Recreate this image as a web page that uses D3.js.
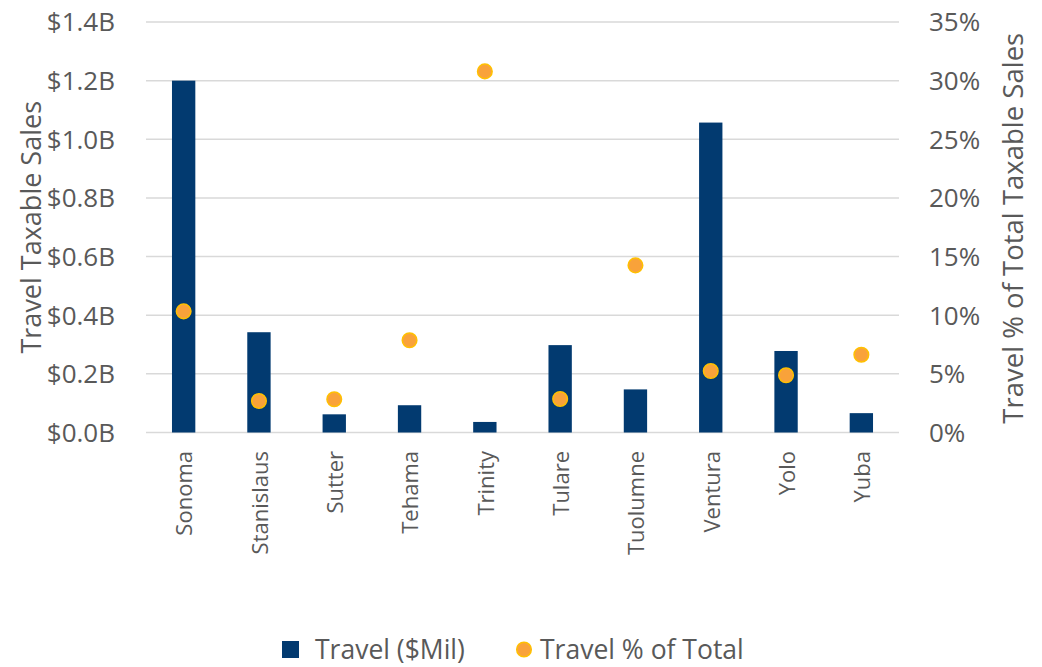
<!DOCTYPE html>
<html><head><meta charset="utf-8">
<script src="https://cdn.jsdelivr.net/npm/d3@7"></script>
<style>body{margin:0;background:#fff}svg{display:block}text{font-family:"Open Sans",sans-serif;fill:#595959}</style>
</head><body><svg id="c" width="1042" height="667"></svg>
<script>
const categories = ["Sonoma","Stanislaus","Sutter","Tehama","Trinity","Tulare","Tuolumne","Ventura","Yolo","Yuba"];
const travelB = [1.20,0.342,0.062,0.093,0.036,0.298,0.147,1.057,0.278,0.066];
const travelPct = [10.33,2.69,2.83,7.86,30.79,2.86,14.25,5.24,4.88,6.63];
const leftTicks = [0,0.2,0.4,0.6,0.8,1.0,1.2,1.4];
const rightTicks = [0,5,10,15,20,25,30,35];
const leftTitle = "Travel Taxable Sales";
const rightTitle = "Travel % of Total Taxable Sales";
const legendLabels = ["Travel ($Mil)","Travel % of Total"];

const svg = d3.select("#c");
const L=146,R=899,T=22,B=432.5;
const x = d3.scaleBand().domain(categories).range([L,R]).paddingInner(0.69).paddingOuter(0.345);
const yL = d3.scaleLinear().domain([0,1.4]).range([B,T]);
const yR = d3.scaleLinear().domain([0,35]).range([B,T]);
const barColor="#023A70", dotFill="#F9A23A", dotStroke="#FFC000";

svg.append("g").selectAll("line").data(leftTicks).join("line")
  .attr("x1",L).attr("x2",R).attr("y1",d=>yL(d)).attr("y2",d=>yL(d))
  .attr("stroke","#D9D9D9").attr("stroke-width",1.5);

svg.append("g").selectAll("text").data(leftTicks).join("text")
  .attr("x",115).attr("y",d=>yL(d)).attr("dy","0.36em").attr("text-anchor","end")
  .style("font-size","26px").text(d=>"$"+d.toFixed(1)+"B");
svg.append("g").selectAll("text").data(rightTicks).join("text")
  .attr("x",929).attr("y",d=>yR(d)).attr("dy","0.36em").attr("text-anchor","start")
  .style("font-size","26px").text(d=>d+"%");

svg.append("g").selectAll("rect").data(categories).join("rect")
  .attr("x",d=>x(d)).attr("width",x.bandwidth())
  .attr("y",(d,i)=>yL(travelB[i])).attr("height",(d,i)=>B-yL(travelB[i]))
  .attr("fill",barColor);

svg.append("g").selectAll("circle").data(categories).join("circle")
  .attr("cx",d=>x(d)+x.bandwidth()/2).attr("cy",(d,i)=>yR(travelPct[i])).attr("r",7.3)
  .attr("fill",dotFill).attr("stroke",dotStroke).attr("stroke-width",1.5);

svg.append("g").selectAll("text").data(categories).join("text")
  .attr("transform",d=>`translate(${x(d)+x.bandwidth()/2},451) rotate(-90)`)
  .attr("text-anchor","end").attr("dy","0.4em").style("font-size","22px").text(d=>d);

svg.append("text").attr("transform",`translate(41,${(T+B)/2}) rotate(-90)`)
  .attr("text-anchor","middle").style("font-size","27px").text(leftTitle);
svg.append("text").attr("transform",`translate(1023,${(T+B)/2+1}) rotate(-90)`)
  .attr("text-anchor","middle").style("font-size","27.5px").text(rightTitle);

const lg = svg.append("g");
lg.append("rect").attr("x",282).attr("y",641).attr("width",17).attr("height",17).attr("fill",barColor);
lg.append("text").attr("x",315).attr("y",659).style("font-size","26.5px").text(legendLabels[0]);
lg.append("circle").attr("cx",524).attr("cy",649.5).attr("r",7.3).attr("fill",dotFill).attr("stroke",dotStroke).attr("stroke-width",1.5);
lg.append("text").attr("x",540).attr("y",659).style("font-size","26.5px").text(legendLabels[1]);
</script></body></html>
